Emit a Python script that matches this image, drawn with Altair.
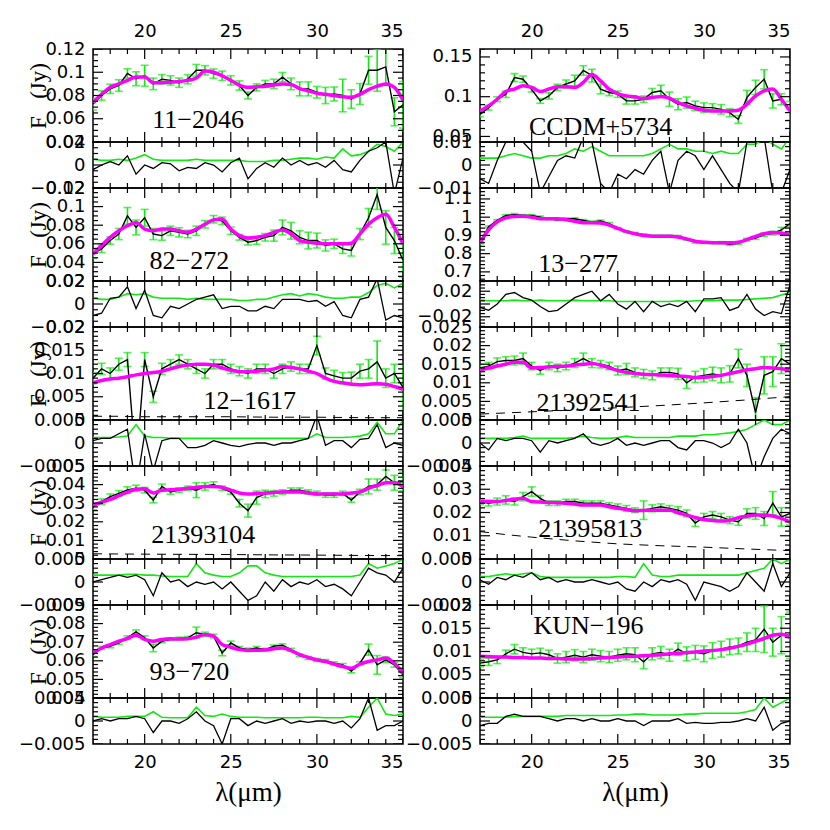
import math
import altair as alt
import pandas as pd

# ---------------- data ----------------
LAM = [17.0, 17.5, 18.0, 18.5, 19.0, 19.5, 20.0, 20.5, 21.0, 21.5, 22.0, 22.5, 23.0, 23.5,
       24.0, 24.5, 25.0, 25.5, 26.0, 26.5, 27.0, 27.5, 28.0, 28.5, 29.0, 29.5, 30.0, 30.5,
       31.0, 31.5, 32.0, 32.5, 33.0, 33.5, 34.0, 34.5, 35.0]
LAM_D = [17.0, 18.5, 20.0, 22.5, 25.0, 27.5, 30.0, 32.5, 35.0]
X_MAJOR = [20, 25, 30, 35]
X_MINOR = [17, 18, 19, 21, 22, 23, 24, 26, 27, 28, 29, 31, 32, 33, 34]

# 11-2046
F_11_2046 = [0.0726, 0.080, 0.0857, 0.0886, 0.099, 0.0944, 0.097, 0.090, 0.094, 0.093, 0.091, 0.094, 0.1017, 0.1017, 0.0988, 0.097, 0.093, 0.0886, 0.080, 0.087, 0.090, 0.090, 0.0958, 0.090, 0.0857, 0.0857, 0.0828, 0.080, 0.0813, 0.080, 0.077, 0.0813, 0.1017, 0.1017, 0.1046, 0.066, 0.072]
M_11_2046 = [0.074, 0.081, 0.087, 0.090, 0.093, 0.096, 0.096, 0.091, 0.091, 0.0915, 0.092, 0.093, 0.095, 0.101, 0.100, 0.097, 0.093, 0.089, 0.087, 0.0875, 0.088, 0.089, 0.090, 0.0895, 0.086, 0.084, 0.082, 0.081, 0.080, 0.079, 0.0785, 0.081, 0.085, 0.088, 0.090, 0.087, 0.076]
E_11_2046 = [0.005, 0.004, 0.004, 0.005, 0.004, 0.006, 0.009, 0.005, 0.004, 0.004, 0.004, 0.004, 0.005, 0.004, 0.004, 0.004, 0.004, 0.004, 0.003, 0.003, 0.003, 0.004, 0.004, 0.005, 0.006, 0.006, 0.005, 0.007, 0.006, 0.014, 0.008, 0.009, 0.012, 0.018, 0.016, 0.012, 0.02]
R_11_2046 = [-0.004, 0.0, 0.003, 0.0, 0.008, -0.008, 0.0, -0.003, 0.002, 0.001, -0.005, -0.002, -0.003, 0.002, 0.0, -0.006, 0.002, 0.006, -0.012, -0.003, 0.002, -0.002, 0.006, 0.0, 0.004, 0.0, 0.002, -0.002, 0.004, -0.004, -0.006, 0.004, 0.012, 0.015, 0.02, -0.025, 0.006]

# CCDM+5734
F_CCDM = [0.0778, 0.0862, 0.0968, 0.103, 0.124, 0.122, 0.109, 0.0947, 0.101, 0.1117, 0.116, 0.120, 0.133, 0.1265, 0.1096, 0.1053, 0.1032, 0.0947, 0.0947, 0.0968, 0.1053, 0.1074, 0.0968, 0.0905, 0.0926, 0.0884, 0.0862, 0.0862, 0.0841, 0.0799, 0.0714, 0.099, 0.1117, 0.122, 0.0947, 0.0968, 0.082]
M_CCDM = [0.082, 0.0885, 0.0968, 0.1066, 0.1096, 0.1138, 0.1117, 0.1066, 0.1096, 0.1125, 0.1125, 0.1117, 0.118, 0.1278, 0.120, 0.1096, 0.104, 0.101, 0.0998, 0.0977, 0.099, 0.1002, 0.0981, 0.0926, 0.0884, 0.0854, 0.0829, 0.082, 0.082, 0.082, 0.0829, 0.0905, 0.101, 0.1074, 0.1096, 0.0968, 0.082]
E_CCDM = [0.003, 0.003, 0.003, 0.004, 0.005, 0.004, 0.003, 0.003, 0.004, 0.004, 0.005, 0.007, 0.006, 0.008, 0.006, 0.004, 0.004, 0.004, 0.004, 0.004, 0.005, 0.007, 0.009, 0.007, 0.007, 0.006, 0.006, 0.005, 0.006, 0.005, 0.005, 0.009, 0.009, 0.012, 0.009, 0.007, 0.012]
R_CCDM = [-0.006, -0.008, 0.002, 0.01, 0.012, 0.01, 0.006, -0.012, -0.005, 0.002, 0.004, 0.003, 0.012, 0.01, -0.008, -0.012, -0.004, -0.006, -0.002, -0.004, 0.002, 0.006, -0.012, 0.002, 0.006, 0.004, -0.002, 0.004, -0.002, -0.008, -0.012, 0.01, 0.012, 0.012, -0.012, -0.012, -0.002]

# 82-272
F_82_272 = [0.0493, 0.0546, 0.0635, 0.0705, 0.090, 0.0776, 0.088, 0.0705, 0.0688, 0.074, 0.0723, 0.0705, 0.074, 0.081, 0.0864, 0.0847, 0.074, 0.067, 0.0617, 0.0635, 0.067, 0.0688, 0.0776, 0.074, 0.067, 0.0635, 0.0635, 0.0582, 0.060, 0.0546, 0.0529, 0.0705, 0.088, 0.113, 0.0776, 0.0635, 0.0423]
M_82_272 = [0.049, 0.0582, 0.067, 0.074, 0.0794, 0.0829, 0.0758, 0.074, 0.0758, 0.0758, 0.074, 0.0723, 0.0758, 0.081, 0.0857, 0.0866, 0.0758, 0.0688, 0.0663, 0.067, 0.0688, 0.0723, 0.0748, 0.0705, 0.0635, 0.0617, 0.0606, 0.060, 0.060, 0.060, 0.0606, 0.0705, 0.081, 0.088, 0.0917, 0.0776, 0.060]
E_82_272 = [0.005, 0.004, 0.004, 0.006, 0.009, 0.008, 0.009, 0.006, 0.005, 0.005, 0.005, 0.004, 0.005, 0.004, 0.004, 0.004, 0.004, 0.003, 0.003, 0.004, 0.004, 0.006, 0.008, 0.009, 0.007, 0.009, 0.008, 0.006, 0.005, 0.005, 0.006, 0.006, 0.010, 0.016, 0.018, 0.014, 0.018]
R_82_272 = [-0.01, -0.008, 0.005, 0.006, 0.015, -0.004, 0.012, -0.01, -0.012, -0.002, -0.004, 0.0, 0.004, 0.006, 0.008, -0.004, -0.002, -0.002, -0.006, -0.006, -0.002, -0.004, 0.004, 0.004, 0.004, 0.002, 0.003, -0.002, 0.002, -0.01, -0.012, 0.004, 0.006, 0.022, -0.014, -0.01, -0.012]

# 13-277
F_13_277 = [0.86, 0.947, 0.982, 1.009, 1.014, 1.009, 1.009, 1.0, 0.991, 0.986, 0.991, 0.991, 0.982, 0.974, 0.979, 0.965, 0.939, 0.921, 0.912, 0.904, 0.898, 0.898, 0.898, 0.895, 0.877, 0.863, 0.86, 0.86, 0.86, 0.851, 0.856, 0.877, 0.886, 0.904, 0.912, 0.93, 0.965]
M_13_277 = [0.86, 0.93, 0.974, 0.996, 1.004, 1.005, 1.0, 0.991, 0.991, 0.991, 0.986, 0.977, 0.97, 0.97, 0.968, 0.956, 0.939, 0.921, 0.909, 0.9, 0.895, 0.895, 0.895, 0.891, 0.881, 0.868, 0.863, 0.86, 0.86, 0.86, 0.863, 0.877, 0.895, 0.909, 0.916, 0.912, 0.904]
E_13_277 = [0.006, 0.005, 0.005, 0.005, 0.006, 0.005, 0.005, 0.006, 0.005, 0.005, 0.005, 0.006, 0.005, 0.005, 0.005, 0.005, 0.004, 0.004, 0.004, 0.004, 0.004, 0.004, 0.004, 0.005, 0.004, 0.005, 0.005, 0.005, 0.006, 0.006, 0.006, 0.007, 0.008, 0.009, 0.010, 0.014, 0.018]
R_13_277 = [-0.005, -0.01, 0.0, 0.015, 0.018, 0.01, 0.006, -0.004, -0.012, -0.01, 0.0, 0.01, 0.015, 0.02, 0.005, 0.015, 0.0, -0.008, 0.004, -0.012, 0.004, -0.004, 0.0, -0.004, 0.004, -0.012, 0.008, 0.008, 0.01, -0.01, -0.005, 0.015, -0.008, -0.018, -0.012, -0.015, 0.03]

# 12-1617
F_12_1617 = [0.009, 0.011, 0.010, 0.012, 0.013, -0.01, 0.013, 0.005, 0.011, 0.012, 0.013, 0.012, 0.011, 0.010, 0.012, 0.012, 0.011, 0.0105, 0.010, 0.011, 0.011, 0.010, 0.011, 0.0115, 0.011, 0.011, 0.016, 0.010, 0.0095, 0.009, 0.009, 0.0105, 0.011, 0.0125, 0.009, 0.010, 0.007]
M_12_1617 = [0.008, 0.0085, 0.0088, 0.009, 0.0093, 0.0097, 0.010, 0.0102, 0.0105, 0.011, 0.0115, 0.0118, 0.012, 0.012, 0.0118, 0.0112, 0.0107, 0.0104, 0.0104, 0.0105, 0.0107, 0.011, 0.0115, 0.0113, 0.011, 0.0105, 0.010, 0.009, 0.0083, 0.008, 0.0077, 0.0076, 0.0077, 0.0078, 0.0077, 0.0072, 0.0066]
E_12_1617 = [0.0012, 0.0012, 0.0012, 0.0013, 0.0015, 0.004, 0.0015, 0.0012, 0.0012, 0.001, 0.001, 0.001, 0.001, 0.001, 0.001, 0.001, 0.001, 0.001, 0.001, 0.001, 0.001, 0.001, 0.001, 0.001, 0.001, 0.001, 0.002, 0.0012, 0.0012, 0.0012, 0.0013, 0.0015, 0.002, 0.0045, 0.002, 0.002, 0.005]
R_12_1617 = [0.0005, 0.001, 0.001, 0.002, 0.003, -0.01, 0.002, -0.006, 0.0005, 0.001, 0.001, -0.001, -0.001, -0.0005, 0.0005, 0.0, -0.0005, -0.0008, -0.0003, 0.0, 0.0, -0.0005, 0.0, 0.0, 0.0005, 0.001, 0.006, -0.0005, 0.0005, 0.0005, -0.001, 0.0008, 0.001, 0.004, -0.001, 0.0, -0.0005]
D_12_1617 = [0.0008, 0.0008, 0.0007, 0.0007, 0.0007, 0.0006, 0.0006, 0.0005, 0.0005]

# 21392541
F_21392541 = [0.014, 0.0145, 0.0157, 0.016, 0.016, 0.0165, 0.0145, 0.0133, 0.0145, 0.014, 0.0145, 0.0153, 0.0165, 0.0153, 0.015, 0.0145, 0.0133, 0.0137, 0.0128, 0.0124, 0.012, 0.0128, 0.0128, 0.0124, 0.010, 0.0116, 0.012, 0.0124, 0.012, 0.0124, 0.0165, 0.012, 0.002, 0.012, 0.013, 0.0165, 0.015]
M_21392541 = [0.0134, 0.014, 0.0145, 0.015, 0.0155, 0.0155, 0.014, 0.0141, 0.0143, 0.0144, 0.0145, 0.0148, 0.015, 0.0152, 0.0148, 0.014, 0.0133, 0.0128, 0.0125, 0.0123, 0.0122, 0.0121, 0.012, 0.0118, 0.0117, 0.0114, 0.0115, 0.0117, 0.012, 0.0125, 0.013, 0.0135, 0.0138, 0.0141, 0.014, 0.0138, 0.0134]
E_21392541 = [0.001, 0.001, 0.001, 0.001, 0.0012, 0.0015, 0.001, 0.001, 0.001, 0.001, 0.001, 0.0012, 0.0015, 0.0012, 0.001, 0.001, 0.0012, 0.0015, 0.0012, 0.0012, 0.0012, 0.0012, 0.0012, 0.0015, 0.0015, 0.0015, 0.0018, 0.0018, 0.002, 0.0022, 0.0025, 0.003, 0.004, 0.005, 0.004, 0.004, 0.005]
R_21392541 = [0.0, -0.0015, 0.001, 0.0005, 0.001, 0.001, 0.0005, -0.002, 0.0005, 0.0, 0.0005, 0.001, 0.002, 0.0, -0.0005, 0.0, 0.001, -0.0005, 0.0, -0.0005, 0.0, 0.0005, 0.0005, -0.001, -0.0015, 0.0005, 0.0005, 0.0, -0.001, 0.0, 0.003, 0.0, -0.008, -0.003, 0.001, 0.003, 0.002]
D_21392541 = [0.0016, 0.0019, 0.0022, 0.0027, 0.0033, 0.0039, 0.0046, 0.0054, 0.0063]

# 21393104
F_21393104 = [0.028, 0.0308, 0.0335, 0.0353, 0.0371, 0.038, 0.037, 0.0317, 0.039, 0.036, 0.037, 0.038, 0.037, 0.039, 0.040, 0.038, 0.036, 0.030, 0.026, 0.033, 0.035, 0.0353, 0.036, 0.037, 0.037, 0.036, 0.0353, 0.0344, 0.0344, 0.0353, 0.0317, 0.036, 0.039, 0.040, 0.0444, 0.041, 0.0417]
M_21393104 = [0.029, 0.0305, 0.032, 0.034, 0.036, 0.0375, 0.0378, 0.0355, 0.037, 0.0372, 0.0375, 0.038, 0.0385, 0.039, 0.039, 0.0385, 0.037, 0.0355, 0.035, 0.0352, 0.0355, 0.0358, 0.036, 0.036, 0.036, 0.0355, 0.035, 0.035, 0.035, 0.035, 0.0355, 0.036, 0.038, 0.0395, 0.041, 0.041, 0.039]
E_21393104 = [0.0015, 0.0015, 0.0015, 0.0015, 0.0017, 0.0017, 0.0015, 0.0015, 0.0013, 0.0012, 0.0012, 0.0012, 0.004, 0.002, 0.0015, 0.0012, 0.0012, 0.002, 0.0035, 0.0035, 0.002, 0.0015, 0.0012, 0.0012, 0.0012, 0.0012, 0.0012, 0.0012, 0.0012, 0.0012, 0.0012, 0.0015, 0.004, 0.003, 0.0035, 0.004, 0.005]
R_21393104 = [0.0, 0.0005, 0.001, 0.0015, 0.001, 0.0015, 0.0005, -0.003, 0.002, 0.0, 0.0005, -0.001, 0.0, -0.0005, 0.0, -0.0015, 0.0, -0.002, -0.004, -0.003, 0.0, -0.002, 0.0005, -0.001, 0.0, -0.0005, 0.0005, -0.001, -0.0005, -0.0015, -0.003, 0.0, 0.003, 0.002, 0.0015, 0.0, 0.003]
D_21393104 = [0.0028, 0.0027, 0.0026, 0.0025, 0.0024, 0.0022, 0.0021, 0.0019, 0.0018]

# 21395813
F_21395813 = [0.0247, 0.024, 0.0247, 0.0254, 0.0247, 0.0268, 0.029, 0.0261, 0.024, 0.024, 0.0247, 0.0247, 0.024, 0.024, 0.024, 0.0232, 0.0225, 0.0218, 0.021, 0.021, 0.0218, 0.0225, 0.0218, 0.021, 0.0196, 0.0155, 0.0181, 0.0189, 0.0181, 0.0167, 0.016, 0.0196, 0.0196, 0.0174, 0.024, 0.0181, 0.0196]
M_21395813 = [0.0247, 0.0247, 0.0247, 0.0252, 0.0257, 0.0261, 0.0247, 0.0245, 0.0243, 0.0242, 0.024, 0.0236, 0.0232, 0.0232, 0.0232, 0.0225, 0.0218, 0.0213, 0.0208, 0.0209, 0.021, 0.021, 0.021, 0.0199, 0.0189, 0.0179, 0.017, 0.0166, 0.0163, 0.0167, 0.0178, 0.0184, 0.0189, 0.0189, 0.0185, 0.0175, 0.016]
E_21395813 = [0.0012, 0.0012, 0.0015, 0.0018, 0.0015, 0.0018, 0.002, 0.0012, 0.001, 0.001, 0.001, 0.001, 0.001, 0.001, 0.001, 0.001, 0.0012, 0.0012, 0.001, 0.004, 0.0015, 0.0012, 0.0012, 0.0015, 0.0015, 0.0015, 0.0015, 0.0015, 0.0015, 0.0015, 0.0015, 0.002, 0.0025, 0.003, 0.005, 0.004, 0.005]
R_21395813 = [0.0005, -0.0005, 0.001, 0.0005, 0.0015, 0.001, 0.002, 0.0005, 0.001, 0.0, 0.0005, 0.0, 0.0, 0.0005, 0.0, -0.0005, 0.0, -0.0015, -0.002, 0.0, -0.001, 0.0005, 0.0, 0.0005, -0.0005, -0.004, 0.0, -0.0005, -0.001, -0.002, -0.001, 0.002, 0.0, -0.002, 0.004, -0.001, 0.002]
D_21395813 = [0.0118, 0.0105, 0.0094, 0.0078, 0.0065, 0.0057, 0.0051, 0.0043, 0.0036]

# 93-720
F_93_720 = [0.0633, 0.0669, 0.0678, 0.0696, 0.0724, 0.0756, 0.0724, 0.0669, 0.0705, 0.0715, 0.072, 0.0724, 0.0751, 0.0742, 0.0733, 0.0642, 0.0696, 0.0669, 0.066, 0.0669, 0.066, 0.0678, 0.0684, 0.066, 0.0629, 0.0615, 0.0605, 0.06, 0.0587, 0.0578, 0.0545, 0.0587, 0.066, 0.0578, 0.0605, 0.0578, 0.0524]
M_93_720 = [0.0642, 0.0669, 0.0687, 0.0705, 0.072, 0.0738, 0.0715, 0.0705, 0.0715, 0.0718, 0.0717, 0.0718, 0.0727, 0.0742, 0.0733, 0.0687, 0.0673, 0.066, 0.0656, 0.0657, 0.0658, 0.0665, 0.0669, 0.0655, 0.0633, 0.0618, 0.0605, 0.0596, 0.0582, 0.0569, 0.056, 0.0582, 0.0596, 0.0605, 0.0615, 0.0587, 0.0533]
E_93_720 = [0.001, 0.0008, 0.0008, 0.0008, 0.001, 0.001, 0.001, 0.002, 0.0008, 0.0007, 0.0007, 0.0007, 0.003, 0.0012, 0.001, 0.0015, 0.001, 0.0008, 0.0008, 0.0008, 0.0007, 0.0007, 0.0007, 0.0007, 0.0007, 0.0008, 0.0008, 0.0007, 0.0007, 0.0007, 0.001, 0.0008, 0.003, 0.005, 0.0015, 0.0012, 0.0015]
R_93_720 = [0.0, 0.0005, 0.0, 0.0005, 0.0005, 0.001, 0.0005, -0.0025, 0.0, 0.0, -0.0005, 0.0005, 0.002, 0.0, -0.001, -0.005, 0.0005, 0.0005, -0.001, 0.0, -0.0005, 0.0, 0.0005, -0.0005, 0.0, -0.0003, 0.0, 0.0, -0.0005, 0.0, -0.0015, 0.0005, 0.005, -0.002, -0.001, -0.001, 0.0]

# KUN-196
F_KUN_196 = [0.0075, 0.0078, 0.0082, 0.0095, 0.0105, 0.0098, 0.0095, 0.0097, 0.0093, 0.0085, 0.0088, 0.0092, 0.0088, 0.0093, 0.009, 0.0088, 0.0092, 0.0095, 0.0093, 0.0078, 0.0095, 0.0098, 0.0092, 0.0105, 0.0095, 0.0098, 0.0095, 0.0102, 0.0105, 0.011, 0.0112, 0.012, 0.0125, 0.0148, 0.012, 0.0135, 0.0135]
M_KUN_196 = [0.009, 0.0089, 0.0088, 0.0088, 0.0087, 0.0087, 0.0086, 0.0086, 0.0085, 0.0085, 0.0084, 0.0084, 0.0084, 0.0085, 0.0086, 0.0087, 0.0088, 0.0089, 0.009, 0.0091, 0.0092, 0.0093, 0.0095, 0.0096, 0.0098, 0.0099, 0.0101, 0.0102, 0.0104, 0.0107, 0.0111, 0.0116, 0.0122, 0.0128, 0.0135, 0.0137, 0.013]
E_KUN_196 = [0.0008, 0.0008, 0.0008, 0.0008, 0.001, 0.001, 0.001, 0.001, 0.001, 0.001, 0.0012, 0.0012, 0.0012, 0.0012, 0.0012, 0.0012, 0.0013, 0.0013, 0.0015, 0.0015, 0.0013, 0.0013, 0.0013, 0.0013, 0.0015, 0.0015, 0.0017, 0.0017, 0.0017, 0.0017, 0.0017, 0.002, 0.0025, 0.005, 0.003, 0.004, 0.005]
R_KUN_196 = [-0.001, -0.0005, -0.0005, 0.001, 0.0015, 0.001, 0.001, 0.001, 0.0005, 0.0, 0.0005, 0.0005, 0.0, 0.0005, 0.0, 0.0, 0.0005, 0.0, 0.0, -0.001, 0.0, 0.0, 0.0, 0.0005, -0.0005, -0.0003, -0.0005, -0.0005, -0.0003, -0.0003, 0.0, 0.0005, 0.0, 0.003, -0.002, -0.0005, 0.0]

LEFT = [
    dict(name="11\u22122046", F=F_11_2046, M=M_11_2046, E=E_11_2046, R=R_11_2046, lab=(23.1, 0.059),
         ydom=(0.04, 0.12), ymaj=[0.04, 0.06, 0.08, 0.1, 0.12], ymin=0.005,
         rdom=(-0.02, 0.02), rmaj=[-0.02, 0, 0.02], rmin=0.005),
    dict(name="82\u2212272", F=F_82_272, M=M_82_272, E=E_82_272, R=R_82_272, lab=(22.6, 0.0416),
         ydom=(0.02, 0.12), ymaj=[0.02, 0.04, 0.06, 0.08, 0.1, 0.12], ymin=0.005,
         rdom=(-0.02, 0.02), rmaj=[-0.02, 0, 0.02], rmin=0.005),
    dict(name="12\u22121617", F=F_12_1617, M=M_12_1617, E=E_12_1617, R=R_12_1617, lab=(26.1, 0.0041),
         ydom=(0.0, 0.02), ymaj=[0, 0.005, 0.01, 0.015, 0.02], ymin=0.001,
         rdom=(-0.005, 0.005), rmaj=[-0.005, 0, 0.005], rmin=0.001, dash=D_12_1617),
    dict(name="21393104", F=F_21393104, M=M_21393104, E=E_21393104, R=R_21393104, lab=(23.4, 0.0127),
         ydom=(0.0, 0.05), ymaj=[0, 0.01, 0.02, 0.03, 0.04, 0.05], ymin=0.002,
         rdom=(-0.005, 0.005), rmaj=[-0.005, 0, 0.005], rmin=0.001, dash=D_21393104),
    dict(name="93\u2212720", F=F_93_720, M=M_93_720, E=E_93_720, R=R_93_720, lab=(22.6, 0.0538),
         ydom=(0.04, 0.09), ymaj=[0.04, 0.05, 0.06, 0.07, 0.08, 0.09], ymin=0.002,
         rdom=(-0.005, 0.005), rmaj=[-0.005, 0, 0.005], rmin=0.001),
]
RIGHT = [
    dict(name="CCDM+5734", F=F_CCDM, M=M_CCDM, E=E_CCDM, R=R_CCDM, lab=(24.0, 0.0618),
         ydom=(0.043, 0.16), ymaj=[0.05, 0.1, 0.15], ymin=0.01,
         rdom=(-0.01, 0.01), rmaj=[-0.01, 0, 0.01], rmin=0.002),
    dict(name="13\u2212277", F=F_13_277, M=M_13_277, E=E_13_277, R=R_13_277, lab=(22.7, 0.742),
         ydom=(0.65, 1.16), ymaj=[0.7, 0.8, 0.9, 1.0, 1.1], ymin=0.02,
         rdom=(-0.036, 0.036), rmaj=[-0.02, 0, 0.02], rmin=0.005),
    dict(name="21392541", F=F_21392541, M=M_21392541, E=E_21392541, R=R_21392541, lab=(23.3, 0.0045),
         ydom=(0.0, 0.025), ymaj=[0, 0.005, 0.01, 0.015, 0.02, 0.025], ymin=0.001,
         rdom=(-0.005, 0.005), rmaj=[-0.005, 0, 0.005], rmin=0.001, dash=D_21392541),
    dict(name="21395813", F=F_21395813, M=M_21395813, E=E_21395813, R=R_21395813, lab=(23.4, 0.013),
         ydom=(0.0, 0.04), ymaj=[0, 0.01, 0.02, 0.03, 0.04], ymin=0.002,
         rdom=(-0.005, 0.005), rmaj=[-0.005, 0, 0.005], rmin=0.001, dash=D_21395813),
    dict(name="KUN\u2212196", F=F_KUN_196, M=M_KUN_196, E=E_KUN_196, R=R_KUN_196, lab=(23.3, 0.0154),
         ydom=(0.0, 0.02), ymaj=[0, 0.005, 0.01, 0.015, 0.02], ymin=0.001,
         rdom=(-0.005, 0.005), rmaj=[-0.005, 0, 0.005], rmin=0.001),
]

# ---------------- styling ----------------
GREEN = "#12e812"
MAGENTA = "#ff00ff"
W, HM, HR = 310, 93, 46
TL_MAJ, TL_MIN = 10, 5
TICK_FONT = "DejaVu Sans"
SERIF = "Liberation Serif"
LABEL_EXPR = "format(datum.value, '~g')"


def minor_vals(d0, d1, step, majors):
    n0 = math.ceil(d0 / step - 1e-9)
    n1 = math.floor(d1 / step + 1e-9)
    out = []
    for k in range(n0, n1 + 1):
        v = round(k * step, 7)
        if all(abs(v - m) > step * 1e-3 for m in majors):
            out.append(v)
    return out


def tick_layers(H, xf, yf, ymaj, ymin):
    layers = []
    for vals, L in ((X_MAJOR, TL_MAJ), (X_MINOR, TL_MIN)):
        d = pd.DataFrame({"t": vals})
        base = alt.Chart(d).mark_rule(color="black", strokeWidth=1.2, clip=True)
        layers.append(base.encode(x=xf("t"), y=alt.value(0), y2=alt.value(L)))
        layers.append(base.encode(x=xf("t"), y=alt.value(H), y2=alt.value(H - L)))
    for vals, L in ((ymaj, TL_MAJ), (ymin, TL_MIN)):
        d = pd.DataFrame({"t": vals})
        base = alt.Chart(d).mark_rule(color="black", strokeWidth=1.2, clip=True)
        layers.append(base.encode(y=yf("t"), x=alt.value(0), x2=alt.value(L)))
        layers.append(base.encode(y=yf("t"), x=alt.value(W), x2=alt.value(W - L)))
    return layers


def encoders(xdom, ydom, xax, yax, xt, yt):
    xs = alt.Scale(domain=list(xdom), nice=False, zero=False)
    ys = alt.Scale(domain=list(ydom), nice=False, zero=False)

    def xf(f):
        return alt.X(f, type="quantitative", scale=xs, axis=xax, title=xt)

    def yf(f):
        return alt.Y(f, type="quantitative", scale=ys, axis=yax, title=yt)
    return xf, yf


def make_main(p, col, row):
    df = pd.DataFrame({"lam": LAM, "f": p["F"], "m": p["M"], "e": p["E"]})
    df["lo"] = df["f"] - df["e"]
    df["hi"] = df["f"] + df["e"]
    if row == 0:
        xax = alt.Axis(orient="top", values=X_MAJOR, format="d", ticks=False, tickSize=0,
                       domain=False, grid=False, labelPadding=9)
    else:
        xax = None
    ykw = dict(values=p["ymaj"], labelExpr=LABEL_EXPR, ticks=False, tickSize=0, domain=False,
               grid=False, labelPadding=8)
    if col == 0:
        ykw.update(titleX=-55, titleY=HM / 2, titleBaseline="middle", titleFont=SERIF,
                   titleFontSize=23, titleFontWeight="normal", titleColor="black")
        yt = "F\u00a0\u00a0\u00a0(Jy)"
    else:
        yt = None
    yax = alt.Axis(**ykw)
    xf, yf = encoders((17, 35), p["ydom"], xax, yax, None, yt)

    base = alt.Chart(df)
    layers = [
        base.mark_rule(color=GREEN, strokeWidth=1.6, clip=True).encode(x=xf("lam"), y=yf("lo"), y2="hi:Q"),
        base.mark_tick(color=GREEN, orient="horizontal", size=8, thickness=1.6, clip=True).encode(x=xf("lam"), y=yf("lo")),
        base.mark_tick(color=GREEN, orient="horizontal", size=8, thickness=1.6, clip=True).encode(x=xf("lam"), y=yf("hi")),
    ]
    if p.get("dash"):
        dd = pd.DataFrame({"lam": LAM_D, "d": p["dash"]})
        layers.append(alt.Chart(dd).mark_line(color="black", strokeWidth=1, strokeDash=[9, 7], clip=True)
                      .encode(x=xf("lam"), y=yf("d")))
    layers += [
        base.mark_line(color="black", strokeWidth=1.4, clip=True).encode(x=xf("lam"), y=yf("f")),
        base.mark_line(color=MAGENTA, strokeWidth=3.5, interpolate="monotone", clip=True).encode(x=xf("lam"), y=yf("m")),
    ]
    lab = pd.DataFrame({"lam": [p["lab"][0]], "v": [p["lab"][1]], "t": [p["name"]]})
    layers.append(alt.Chart(lab).mark_text(font=SERIF, fontSize=26, color="black", baseline="middle")
                  .encode(x=xf("lam"), y=yf("v"), text="t:N"))
    ymin = minor_vals(p["ydom"][0], p["ydom"][1], p["ymin"], p["ymaj"])
    layers += tick_layers(HM, xf, yf, p["ymaj"], ymin)
    return alt.layer(*layers).properties(width=W, height=HM)


def make_res(p, col, row):
    df = pd.DataFrame({"lam": LAM, "r": p["R"], "e": p["E"]})
    if row == 4:
        xax = alt.Axis(orient="bottom", values=X_MAJOR, format="d", ticks=False, tickSize=0,
                       domain=False, grid=False, labelPadding=9, titleFont=SERIF,
                       titleFontSize=27, titleFontWeight="normal", titlePadding=8, titleColor="black")
        xt = "\u03bb(\u03bcm)"
    else:
        xax = None
        xt = None
    yax = alt.Axis(values=p["rmaj"], labelExpr=LABEL_EXPR, ticks=False, tickSize=0, domain=False,
                   grid=False, labelPadding=8)
    xf, yf = encoders((17, 35), p["rdom"], xax, yax, xt, None)
    base = alt.Chart(df)
    layers = [
        base.mark_line(color=GREEN, strokeWidth=1.6, clip=True).encode(x=xf("lam"), y=yf("e")),
        base.mark_line(color="black", strokeWidth=1.3, clip=True).encode(x=xf("lam"), y=yf("r")),
    ]
    rmin = minor_vals(p["rdom"][0], p["rdom"][1], p["rmin"], p["rmaj"])
    layers += tick_layers(HR, xf, yf, p["rmaj"], rmin)
    return alt.layer(*layers).properties(width=W, height=HR)


cells = []
for row in range(5):
    cells.append(make_main(LEFT[row], 0, row))
    cells.append(make_main(RIGHT[row], 1, row))
    cells.append(make_res(LEFT[row], 0, row))
    cells.append(make_res(RIGHT[row], 1, row))

chart = alt.concat(*cells, columns=2, spacing={"row": 0, "column": 77}, bounds="flush").properties(
    padding={"left": 9, "top": 13, "right": 5, "bottom": 5}
).configure_view(
    stroke="black", strokeWidth=1.5
).configure_axis(
    labelFont=TICK_FONT, labelFontSize=18, labelColor="black"
)

chart.save("out.html", embed_options={"renderer": "svg", "actions": False})
